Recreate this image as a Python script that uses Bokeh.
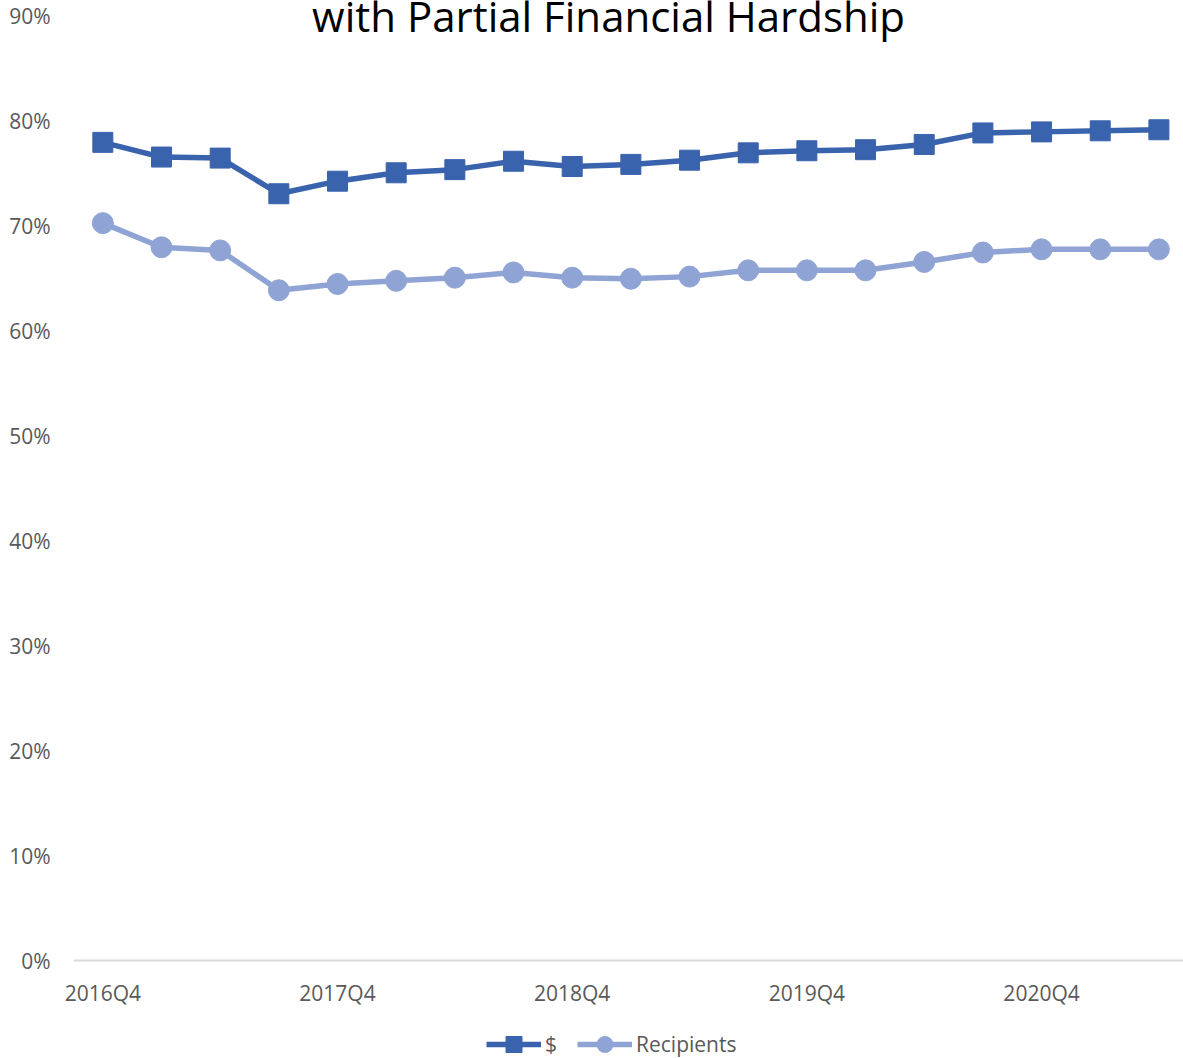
from bokeh.plotting import figure
from bokeh.models import (ColumnDataSource, Range1d, Label, Legend, LegendItem)
from bokeh.core.properties import value
from bokeh.embed import file_html
from bokeh.resources import INLINE

quarters = ["2016Q4", "2017Q1", "2017Q2", "2017Q3", "2017Q4", "2018Q1", "2018Q2", "2018Q3",
            "2018Q4", "2019Q1", "2019Q2", "2019Q3", "2019Q4", "2020Q1", "2020Q2", "2020Q3",
            "2020Q4", "2021Q1", "2021Q2"]
dollars = [78.0, 76.6, 76.5, 73.1, 74.3, 75.1, 75.4, 76.2, 75.7, 75.9, 76.3, 77.0, 77.2,
           77.3, 77.8, 78.9, 79.0, 79.1, 79.2]
recipients = [70.3, 68.0, 67.7, 63.9, 64.5, 64.8, 65.1, 65.6, 65.1, 65.0, 65.2, 65.8, 65.8,
              65.8, 66.6, 67.5, 67.8, 67.8, 67.8]
y_ticks = [0, 10, 20, 30, 40, 50, 60, 70, 80, 90]
y_tick_labels = ["0%", "10%", "20%", "30%", "40%", "50%", "60%", "70%", "80%", "90%"]
title_text = "with Partial Financial Hardship"
series_names = ["$", "Recipients"]

FONT = "Open Sans"
GRAY = "#595959"
C1 = "#3A63AD"
C2 = "#8FA4D5"

idx = list(range(len(quarters)))
src = ColumnDataSource(dict(
    x=idx,
    d=[v / 100 for v in dollars],
    r=[v / 100 for v in recipients],
))

W, H = 1183, 1058
PX = 1049.0      # pixels per unit (100%)
CW = 58.67       # pixels per category
x0 = -0.5 - 73 / CW
x1 = -0.5 + 1110 / CW
p = figure(width=W, height=H, output_backend="svg", toolbar_location=None,
           x_range=Range1d(x0, x1),
           y_range=Range1d(-98 / PX, 0.91525),
           min_border_left=0, min_border_right=0, min_border_top=0, min_border_bottom=0)
p.outline_line_color = None
p.background_fill_color = "white"
p.border_fill_color = "white"
p.xgrid.grid_line_color = None
p.ygrid.grid_line_color = None
p.xaxis.visible = False
p.yaxis.visible = False

# value axis labels
ysrc = ColumnDataSource(dict(x=[-0.5] * len(y_ticks), y=[t / 100 for t in y_ticks], t=y_tick_labels))
p.text("x", "y", text="t", source=ysrc, text_align="right", text_baseline="middle",
       x_offset=-23, text_font=value(FONT), text_font_size="21px", text_color=GRAY)

# category axis line at 0 and its labels
p.segment(x0=[-0.5], y0=[0], x1=[x1], y1=[0], line_color="#D9D9D9", line_width=2)
xt = [i for i in idx if quarters[i].endswith("Q4")]
lab_src = ColumnDataSource(dict(x=xt, y=[0] * len(xt), t=[quarters[i] for i in xt]))
p.text("x", "y", text="t", source=lab_src, text_align="center", text_baseline="middle",
       y_offset=32, text_font=value(FONT), text_font_size="21px", text_color=GRAY)

l1 = p.line("x", "d", source=src, line_color=C1, line_width=5.5)
m1 = p.scatter("x", "d", source=src, marker="square", size=20, fill_color=C1, line_color=C1)
l2 = p.line("x", "r", source=src, line_color=C2, line_width=5.5)
m2 = p.scatter("x", "r", source=src, marker="circle", size=21, fill_color=C2, line_color=C2)

title = Label(x=8.62, y=0.901, text=title_text, text_align="center",
              text_baseline="alphabetic", text_font=FONT, text_font_size="42px",
              text_color="black")
p.add_layout(title)

legend = Legend(items=[LegendItem(label=series_names[0], renderers=[l1, m1]),
                       LegendItem(label=series_names[1], renderers=[l2, m2])],
                location=(486, -6), orientation="horizontal",
                glyph_width=55, glyph_height=40, label_standoff=4, spacing=20,
                label_width=10, padding=0, margin=0,
                border_line_color=None, background_fill_alpha=0,
                label_text_font=FONT, label_text_font_size="21px",
                label_text_color=GRAY)
p.add_layout(legend, "center")

open("out.html", "w").write(file_html(p, INLINE))
